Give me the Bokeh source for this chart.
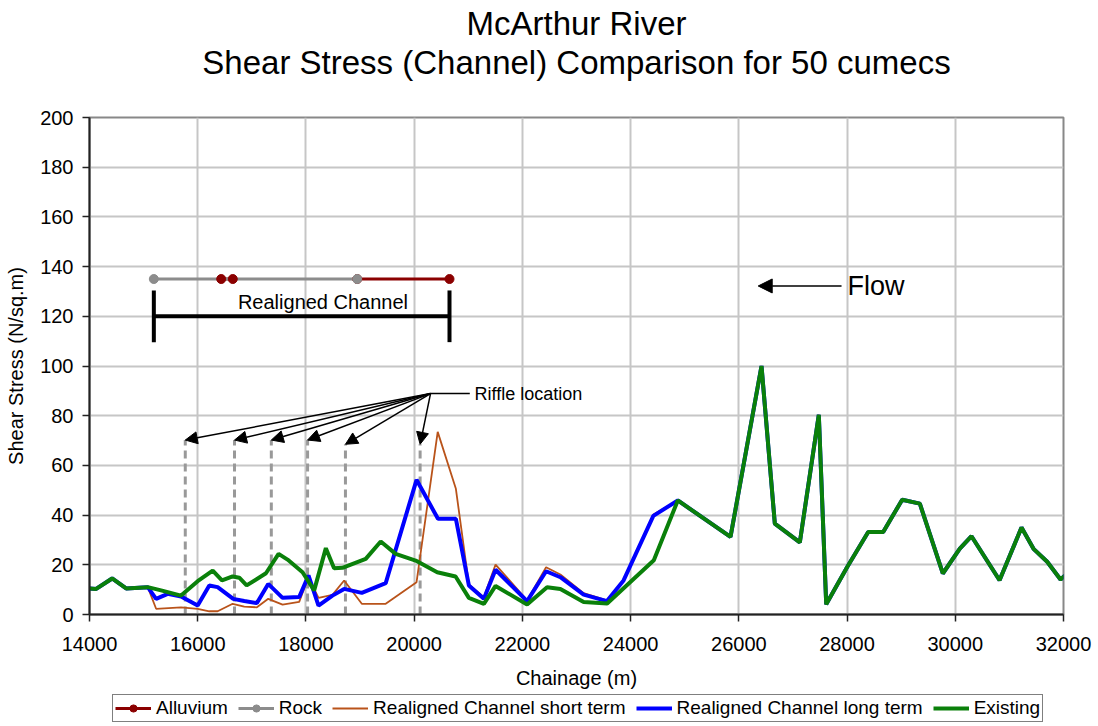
from bokeh.plotting import figure
from bokeh.layouts import column
from bokeh.models import (ColumnDataSource, Label, Arrow, NormalHead, Legend, LegendItem,
                          SingleIntervalTicker, Range1d, BasicTickFormatter, Title)
from bokeh.embed import file_html
from bokeh.resources import INLINE

FONT = "Liberation Sans"

# ---------------- data ----------------
title_lines = ["McArthur River", "Shear Stress (Channel) Comparison for 50 cumecs"]

# shared upstream reach (all three series identical)
chain_up = [14000, 14123, 14418, 14677, 15077]
stress_up = [10.5, 10.3, 14.5, 10.5, 11.0]

# existing channel, middle reach
exist_x = [15323, 15692, 15999, 16277, 16448, 16646, 16768, 16904, 17261, 17494, 17660,
           17937, 18152, 18368, 18520, 18674, 19105, 19382, 19658, 20027, 20426, 20765,
           21011, 21288, 21504, 22087, 22456, 22702, 23132, 23567, 24429]
exist_y = [9.7, 7.6, 13.4, 17.7, 13.7, 15.3, 14.8, 11.7, 16.6, 24.4, 22.1,
           17.0, 9.7, 26.7, 18.6, 18.8, 22.4, 29.4, 24.4, 21.7, 17.0, 15.3,
           6.7, 4.3, 11.5, 4.0, 11.0, 10.3, 5.0, 4.4, 21.8]

# realigned channel long term, middle reach
long_x = [15231, 15446, 15692, 15999, 16214, 16368, 16657, 16860, 17094, 17303, 17568,
          17875, 18047, 18232, 18490, 18706, 19032, 19474, 20044, 20440, 20771, 21011,
          21288, 21504, 22087, 22438, 22702, 23132, 23563, 23870, 24420]
long_y = [6.3, 8.3, 7.2, 3.6, 11.7, 11.0, 6.3, 5.4, 4.6, 12.3, 6.7,
          7.0, 15.7, 3.6, 7.6, 10.3, 8.7, 12.6, 54.2, 38.5, 38.5, 11.7,
          6.3, 18.0, 5.4, 17.4, 15.0, 8.0, 5.4, 13.7, 39.7]

# realigned channel short term, middle reach
short_x = [15231, 15692, 15999, 16214, 16368, 16646, 16860, 17094, 17303, 17568, 17875,
           18047, 18232, 18490, 18706, 19032, 19474, 20044, 20435, 20771, 21011, 21288,
           21504, 22087, 22438, 22702, 23132, 23563, 23870, 24420]
short_y = [2.3, 2.9, 2.3, 1.3, 1.3, 4.3, 3.2, 2.9, 6.3, 4.0, 5.1,
           15.0, 6.7, 7.9, 13.7, 4.3, 4.3, 13.0, 73.5, 50.6, 12.1, 7.0,
           20.1, 5.7, 19.0, 16.1, 8.6, 5.7, 13.7, 40.2]

# shared downstream reach
chain_dn = [24872, 25846, 26419, 26665, 27127, 27478, 27615, 28003, 28391, 28668, 29019,
            29345, 29770, 30084, 30300, 30818, 31224, 31451, 31699, 31945, 32098]
stress_dn = [45.9, 31.2, 100.0, 36.6, 29.0, 80.4, 4.1, 19.1, 33.2, 33.2, 46.2,
             44.6, 16.5, 26.5, 31.5, 13.8, 35.0, 26.3, 21.2, 14.1, 17.1]

# geology along realigned channel
alluvium_x = [16434, 16648, float("nan"), 18947, 20653]
alluvium_y = [135, 135, float("nan"), 135, 135]
rock_x = [15189, 18947]
rock_y = [135, 135]

# realigned channel extent
realigned_start, realigned_end, realigned_level = 15189, 20653, 120
bracket_low, bracket_high = 109.6, 130.4
realigned_label_x, realigned_label_y = 18315, 125.6

# riffle locations
riffle_x = [15770, 16680, 17360, 18030, 18730, 20110]
riffle_top = [70.2, 70.2, 70.2, 70.2, 68.5, 68.5]
riffle_label_x, riffle_label_y = 20302, 88.9
riffle_line_end, riffle_text_x = 21028, 21115

# flow arrow
flow_start, flow_end, flow_y = 27898, 26358, 132.2
flow_text_x = 28008

x_ticks_interval = 2000
y_ticks_interval = 20

# series assembled from the reaches
existing_x = chain_up + exist_x + chain_dn
existing_y = stress_up + exist_y + stress_dn
longterm_x = chain_up + long_x + chain_dn
longterm_y = stress_up + long_y + stress_dn
shortterm_x = chain_up + short_x + chain_dn
shortterm_y = stress_up + short_y + stress_dn

STYLE = {
    "short": dict(line_color="#b9531a", line_width=1.8),
    "long": dict(line_color="#0000ff", line_width=4),
    "exist": dict(line_color="#0a800a", line_width=4),
    "alluvium": dict(line_color="#8b0000", line_width=3),
    "rock": dict(line_color="#8c8c8c", line_width=3),
}

# ---------------- main figure ----------------
p = figure(frame_width=974, frame_height=497, output_backend="svg", toolbar_location=None,
           x_range=Range1d(14000, 32000), y_range=Range1d(0, 200),
           min_border_left=89, min_border_right=35, min_border_top=117, min_border_bottom=0)
p.outline_line_color = "#888888"
p.outline_line_width = 2
p.background_fill_color = "white"
p.border_fill_color = "white"

# title: p.title is outermost; added Titles stack outward from the frame in add order
p.title.text = title_lines[0]
p.title.align = "center"
p.title.text_font = FONT
p.title.text_font_size = "33px"
p.title.text_font_style = "normal"
p.title.text_color = "black"
p.title.standoff = 0
p.add_layout(Title(text=" ", align="center", text_font=FONT, text_font_size="31px",
                   standoff=0), "above")
p.add_layout(Title(text=title_lines[1], align="center", text_font=FONT,
                   text_font_size="33px", text_font_style="normal",
                   text_color="black", standoff=0), "above")

xt = SingleIntervalTicker(interval=x_ticks_interval, num_minor_ticks=0)
yt = SingleIntervalTicker(interval=y_ticks_interval, num_minor_ticks=0)
p.xaxis.ticker = xt
p.yaxis.ticker = yt
p.xgrid.ticker = xt
p.ygrid.ticker = yt
p.xaxis.formatter = BasicTickFormatter(use_scientific=False)
for g in (p.xgrid, p.ygrid):
    g.grid_line_color = "#c6c6c6"
    g.grid_line_width = 2

for ax in (p.xaxis, p.yaxis):
    ax.axis_line_color = "#222222"
    ax.axis_line_width = 2
    ax.major_tick_line_color = "#222222"
    ax.major_tick_line_width = 1.5
    ax.major_tick_in = 0
    ax.major_tick_out = 7
    ax.minor_tick_line_color = None
    ax.major_label_text_font = FONT
    ax.major_label_text_font_size = "20px"
    ax.major_label_text_color = "black"
    ax.axis_label_text_font = FONT
    ax.axis_label_text_font_size = "20px"
    ax.axis_label_text_font_style = "normal"
    ax.axis_label_text_color = "black"
    ax.axis_label_standoff = 10
p.xaxis.major_label_standoff = 15
p.xaxis.axis_label_standoff = 13
p.yaxis.major_label_standoff = 9

p.xaxis.axis_label = "Chainage (m)"
p.yaxis.axis_label = "Shear Stress (N/sq.m)"

# riffle dashed lines
p.segment(x0=riffle_x, y0=[0] * len(riffle_x), x1=riffle_x, y1=riffle_top,
          line_color="#999999", line_width=3, line_dash="8 5")

# series
p.line(shortterm_x, shortterm_y, **STYLE["short"])
p.line(longterm_x, longterm_y, **STYLE["long"])
p.line(existing_x, existing_y, **STYLE["exist"])

# geology
p.line(alluvium_x, alluvium_y, **STYLE["alluvium"])
p.line(rock_x, rock_y, **STYLE["rock"])
p.scatter(alluvium_x, alluvium_y, marker="circle", size=9,
          fill_color="#8b0000", line_color="#8b0000")
p.scatter(rock_x, rock_y, marker="circle", size=9,
          fill_color="#8c8c8c", line_color="#8c8c8c")

# realigned channel bracket
p.segment(x0=[realigned_start, realigned_start, realigned_end],
          y0=[realigned_level, bracket_low, bracket_low],
          x1=[realigned_end, realigned_start, realigned_end],
          y1=[realigned_level, bracket_high, bracket_high],
          line_color="black", line_width=4)
p.add_layout(Label(x=realigned_label_x, y=realigned_label_y, text="Realigned Channel",
                   text_align="center", text_baseline="middle",
                   text_font=FONT, text_font_size="20px", text_color="black"))

# riffle arrows
arrow_src = ColumnDataSource(dict(
    xs=[riffle_label_x] * len(riffle_x), ys=[riffle_label_y] * len(riffle_x),
    xe=riffle_x, ye=riffle_top))
p.add_layout(Arrow(end=NormalHead(size=12, fill_color="black", line_color="black"),
                   x_start="xs", y_start="ys", x_end="xe", y_end="ye",
                   source=arrow_src, line_color="black", line_width=1.5))
p.segment(x0=[riffle_label_x], y0=[riffle_label_y], x1=[riffle_line_end], y1=[riffle_label_y],
          line_color="black", line_width=1.5)
p.add_layout(Label(x=riffle_text_x, y=riffle_label_y, text="Riffle location",
                   text_align="left", text_baseline="middle",
                   text_font=FONT, text_font_size="18px", text_color="black"))

# flow arrow
p.add_layout(Arrow(end=NormalHead(size=14, fill_color="black", line_color="black"),
                   x_start=flow_start, y_start=flow_y, x_end=flow_end, y_end=flow_y,
                   line_color="black", line_width=1.5))
p.add_layout(Label(x=flow_text_x, y=flow_y, text="Flow", text_align="left",
                   text_baseline="middle", text_font=FONT, text_font_size="27px",
                   text_color="black"))

# ---------------- legend strip below the chart ----------------
lf = figure(width=1098, height=31, output_backend="svg", toolbar_location=None,
            x_range=Range1d(0, 1), y_range=Range1d(0, 1),
            x_axis_type=None, y_axis_type=None,
            min_border_left=0, min_border_right=0, min_border_top=0, min_border_bottom=0)
lf.outline_line_color = None
lf.background_fill_color = "white"
lf.border_fill_color = "white"
# same series drawn here (outside this strip's visible range) to key the legend
l_all_l = lf.line(alluvium_x, alluvium_y, **STYLE["alluvium"])
l_all_s = lf.scatter(alluvium_x, alluvium_y, marker="circle", size=9,
                     fill_color="#8b0000", line_color="#8b0000")
l_rock_l = lf.line(rock_x, rock_y, **STYLE["rock"])
l_rock_s = lf.scatter(rock_x, rock_y, marker="circle", size=9,
                      fill_color="#8c8c8c", line_color="#8c8c8c")
l_short = lf.line(shortterm_x, shortterm_y, **STYLE["short"])
l_long = lf.line(longterm_x, longterm_y, **STYLE["long"])
l_exist = lf.line(existing_x, existing_y, **STYLE["exist"])

legend = Legend(items=[
    LegendItem(label="Alluvium", renderers=[l_all_l, l_all_s]),
    LegendItem(label="Rock", renderers=[l_rock_l, l_rock_s]),
    LegendItem(label="Realigned Channel short term", renderers=[l_short]),
    LegendItem(label="Realigned Channel long term", renderers=[l_long]),
    LegendItem(label="Existing", renderers=[l_exist]),
], orientation="horizontal", location=(23, 0))
legend.label_text_font = FONT
legend.label_text_font_size = "19px"
legend.label_text_color = "black"
legend.glyph_width = 36
legend.glyph_height = 18
legend.label_standoff = 5
legend.spacing = 10
legend.padding = 2
legend.margin = 0
legend.border_line_color = "black"
legend.border_line_width = 1
legend.background_fill_color = "white"
lf.add_layout(legend, "center")

layout = column(p, lf, spacing=0)
open("out.html", "w").write(file_html(layout, INLINE))
